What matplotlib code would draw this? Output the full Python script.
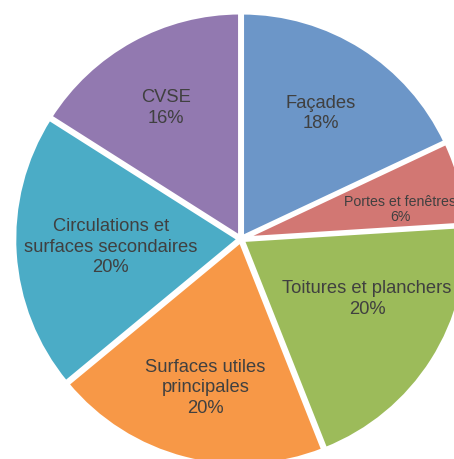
import matplotlib
matplotlib.use('Agg')
import matplotlib.pyplot as plt
import numpy as np

# données du camembert
labels = ["Façades", "Portes et fenêtres", "Toitures et planchers",
          "Surfaces utiles\nprincipales", "Circulations et\nsurfaces secondaires", "CVSE"]
values = [18, 6, 20, 20, 20, 16]
colors = ["#6c96c8", "#d27773", "#9cbb5a", "#f79847", "#4bacc6", "#9279b0"]

# position des étiquettes (fraction du rayon, décalage angulaire en degrés)
label_r = [0.66, 0.72, 0.62, 0.68, 0.58, 0.67]
label_dtheta = [0, -4, 7, 1, 0, 1]
label_size = [13.2, 10.2, 13.2, 13.2, 13.2, 13.2]

plt.rcParams["font.family"] = ["Liberation Sans", "DejaVu Sans"]

W, H = 454, 459
cx, cy, R = 241, 239, 225

fig = plt.figure(figsize=(W / 100, H / 100), dpi=100)
ax = fig.add_axes([0, 0, 1, 1])
ax.axis("off")

wedges, _ = ax.pie(values, colors=colors, startangle=90, counterclock=False,
                   radius=1.0, explode=[0.008] * len(values),
                   wedgeprops={"edgecolor": "white", "linewidth": 3})

for w, lab, val, r, dt, fs in zip(wedges, labels, values, label_r, label_dtheta, label_size):
    mid = np.deg2rad((w.theta1 + w.theta2) / 2 + dt)
    ls = 1.1 if fs < 12 else 1.27
    ax.text(r * np.cos(mid), r * np.sin(mid), f"{lab}\n{val}%",
            ha="center", va="center", fontsize=fs, color="#404040", linespacing=ls)

ax.set_xlim(-cx / R, (W - cx) / R)
ax.set_ylim(-(H - cy) / R, cy / R)
ax.set_aspect("auto")

fig.savefig("out.png", dpi=100)
